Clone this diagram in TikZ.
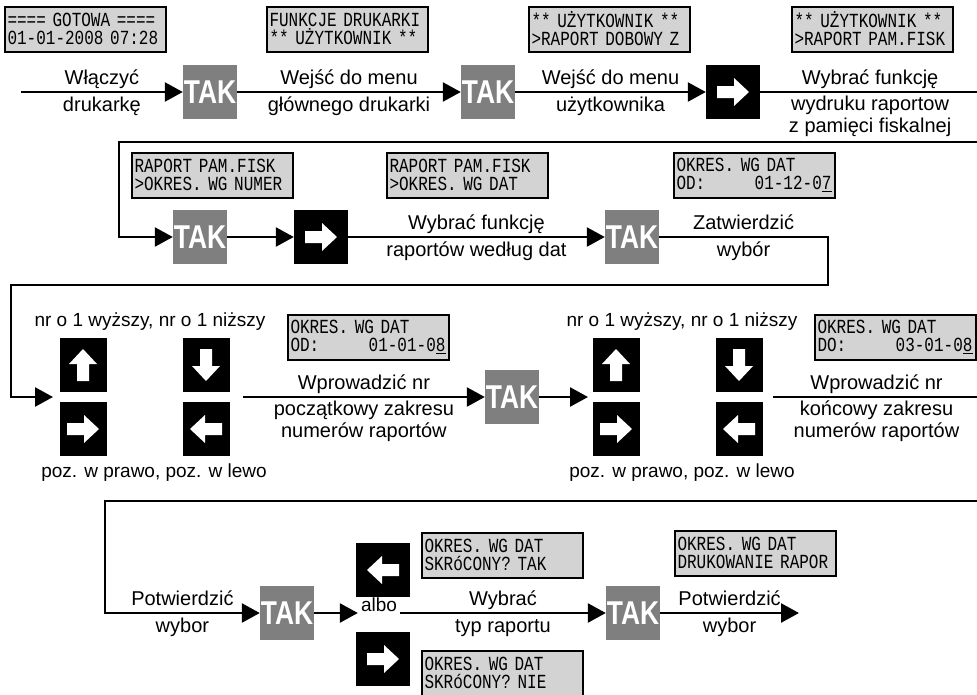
\documentclass[tikz,border=0pt]{standalone}
\usepackage{fontspec}
\setmainfont{Liberation Sans}
\newfontfamily\lcdfont{Liberation Mono}[FakeStretch=0.8]
\newfontfamily\takfont{Liberation Sans}[FakeStretch=0.8]
\usetikzlibrary{arrows.meta, positioning, calc}
\definecolor{lcdgray}{HTML}{D3D3D3}
\definecolor{keygray}{HTML}{7F7F7F}
\newcommand\lcdspace{\setbox0\hbox{0}\spaceskip=\wd0\xspaceskip=\wd0\relax}
\newcommand\keyglyph[2]{\fill[white, shift={(#1.center)}, rotate=#2]
  (-16,-6) -- (1,-6) -- (1,-14) -- (16,0) -- (1,14) -- (1,6) -- (-16,6) -- cycle;}

\tikzset{
  wire/.style={line width=2.5pt},
  flow/.style={wire, -{Triangle[length=18pt, width=19pt]}},
  tak/.style={fill=keygray, minimum width=54pt, minimum height=54pt, inner sep=0pt,
    text=white, font=\takfont\bfseries\fontsize{33pt}{33pt}\selectfont},
  key/.style={fill=black, minimum width=54pt, minimum height=54pt, inner sep=0pt},
  slimkey/.style={key, minimum width=47pt},
  lcd/.style={draw, line width=2pt, fill=lcdgray, text width=155pt, minimum height=45pt,
    inner sep=3pt, align=left, font=\lcdfont\fontsize{20pt}{18pt}\selectfont\lcdspace},
  lbl/.style={align=center, font=\fontsize{20pt}{22pt}\selectfont},
  lblup/.style={lbl, above, inner sep=1pt, text depth=5pt},
  lbldown/.style={lbl, below, inner xsep=1pt, inner ysep=2.5pt, execute at begin node=\strut},
  note/.style={inner sep=0pt, font=\fontsize{19pt}{21pt}\selectfont},
}

\begin{document}
\begin{tikzpicture}[x=1pt, y=-1pt]
  \useasboundingbox (0,0) rectangle (977,694);

  % row 1
  \node[lcd] (lcd1) at (85,29) {==== GOTOWA ====\\01-01-2008 07:28};
  \node[lcd] (lcd2) at (347,29) {FUNKCJE DRUKARKI\\{}** UŻYTKOWNIK **};
  \node[lcd] (lcd3) at (609,29) {** UŻYTKOWNIK **\\>RAPORT DOBOWY Z};
  \node[lcd] (lcd4) at (872,29) {** UŻYTKOWNIK **\\>RAPORT PAM.FISK};
  \coordinate (start) at (21,92);
  \node[tak] (tak1) at (210,92) {TAK};
  \node[tak] (tak2) at (488,92) {TAK};
  \node[key] (right1) at (733,92) {};
  \keyglyph{right1}{0}
  \coordinate (end1) at (980,92);
  \draw[flow] (start) -- node[lblup]{Włączyć} node[lbldown]{drukarkę} (tak1);
  \draw[flow] (tak1) -- node[lblup]{Wejść do menu} node[lbldown]{głównego drukarki} (tak2);
  \draw[flow] (tak2) -- node[lblup]{Wejść do menu} node[lbldown]{użytkownika} (right1);
  \draw[wire] (right1) -- node[lblup]{Wybrać funkcję} node[lbldown]{wydruku raportow\\z pamięci fiskalnej} (end1);

  % row 2
  \node[lcd] (lcd5) at (212,175) {RAPORT PAM.FISK\\>OKRES. WG NUMER};
  \node[lcd] (lcd6) at (467,175) {RAPORT PAM.FISK\\>OKRES. WG DAT};
  \node[lcd] (lcd7) at (754,175) {OKRES. WG DAT\\OD:\hfill 01-12-0\underline{7}};
  \coordinate (begin2) at (980,142);
  \coordinate (turn2) at (119,142);
  \node[tak] (tak3) at (200,237) {TAK};
  \node[key] (right2) at (321,237) {};
  \keyglyph{right2}{0}
  \node[tak] (tak4) at (632,237) {TAK};
  \coordinate (turn3) at (828,237);
  \coordinate (turn4) at (11,285);
  \coordinate (into3) at (53,397);
  \draw[flow] (begin2) -- (turn2) |- (tak3);
  \draw[flow] (tak3) -- (right2);
  \draw[flow] (right2) -- node[lblup]{Wybrać funkcję} node[lbldown]{raportów według dat} (tak4);
  \draw[flow] (tak4) -- node[lblup]{Zatwierdzić} node[lbldown]{wybór} (turn3) |- (turn4) |- (into3);

  % row 3
  \node[note] at (150,322) {nr o 1 wyższy, nr o 1 niższy};
  \node[note] at (154,473) {poz. w prawo, poz. w lewo};
  \node[slimkey] (up1) at (83,365) {};
  \node[slimkey] (right3) at (83,429) {};
  \node[slimkey] (down1) at (206,365) {};
  \node[slimkey] (left1) at (206,429) {};
  \keyglyph{up1}{90}
  \keyglyph{right3}{0}
  \keyglyph{down1}{-90}
  \keyglyph{left1}{180}
  \node[lcd] (lcd8) at (368,337) {OKRES. WG DAT\\OD:\hfill 01-01-0\underline{8}};
  \coordinate (out3) at (243,397);
  \node[tak] (tak5) at (512,397) {TAK};
  \coordinate (into3b) at (588,397);
  \node[note] at (682,322) {nr o 1 wyższy, nr o 1 niższy};
  \node[note] at (682,473) {poz. w prawo, poz. w lewo};
  \node[slimkey] (up2) at (616,365) {};
  \node[slimkey] (right4) at (616,429) {};
  \node[slimkey] (down2) at (739,365) {};
  \node[slimkey] (left2) at (739,429) {};
  \keyglyph{up2}{90}
  \keyglyph{right4}{0}
  \keyglyph{down2}{-90}
  \keyglyph{left2}{180}
  \node[lcd] (lcd9) at (895,337) {OKRES. WG DAT\\DO:\hfill 03-01-0\underline{8}};
  \coordinate (out3b) at (773,397);
  \coordinate (end3) at (980,397);
  \draw[flow] (out3) -- node[lblup]{Wprowadzić nr} node[lbldown]{początkowy zakresu\\numerów raportów} (tak5);
  \draw[flow] (tak5) -- (into3b);
  \draw[wire] (out3b) -- node[lblup]{Wprowadzić nr} node[lbldown]{końcowy zakresu\\numerów raportów} (end3);

  % row 4
  \coordinate (begin4) at (980,501);
  \coordinate (turn5) at (105,501);
  \node[tak] (tak6) at (287,613) {TAK};
  \node[inner xsep=3pt, inner ysep=0pt, anchor=base, font=\fontsize{19pt}{21pt}\selectfont] (albo) at (379,611) {albo};
  \coordinate (alboin) at (albo.base west |- tak6);
  \coordinate (alboout) at (albo.base east |- tak6);
  \node[key] (left4) at (383,570) {};
  \node[key] (right5) at (383,659) {};
  \keyglyph{left4}{180}
  \keyglyph{right5}{0}
  \node[lcd] (lcd10) at (502,555) {OKRES. WG DAT\\SKRóCONY? TAK};
  \node[lcd] (lcd11) at (502,673) {OKRES. WG DAT\\SKRóCONY? NIE};
  \node[tak] (tak7) at (633,613) {TAK};
  \node[lcd] (lcd12) at (755,553) {OKRES. WG DAT\\DRUKOWANIE RAPOR};
  \coordinate (end4) at (799,613);
  \draw[flow] (begin4) -- (turn5) |- node[lblup, pos=0.75]{Potwierdzić} node[lbldown, pos=0.75]{wybor} (tak6);
  \draw[flow] (tak6) -- (alboin);
  \draw[flow] (alboout) -- node[lblup]{Wybrać} node[lbldown]{typ raportu} (tak7);
  \draw[flow] (tak7) -- node[lblup]{Potwierdzić} node[lbldown]{wybor} (end4);
\end{tikzpicture}
\end{document}
